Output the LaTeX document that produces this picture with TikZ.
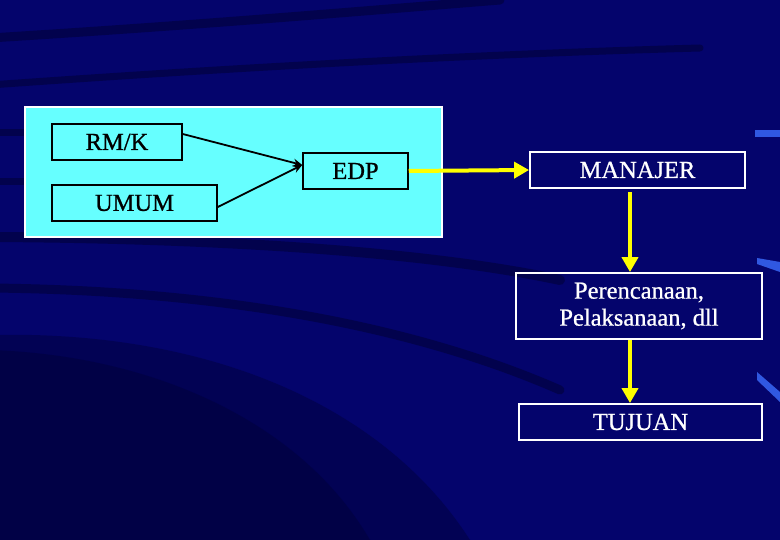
\documentclass[tikz,border=0pt]{standalone}
\usepackage{fontspec}
\setmainfont{Liberation Serif}
\newfontfamily\boxfont[FakeBold=0.8]{Liberation Serif}
\usetikzlibrary{arrows.meta}
\definecolor{bgblue}{RGB}{4,4,108}
\definecolor{darkband}{RGB}{0,0,40}
\definecolor{panelcyan}{RGB}{102,255,255}
\definecolor{arrowyellow}{RGB}{255,255,0}
\definecolor{streak}{RGB}{60,110,255}
\tikzset{
  inbox/.style={draw=black, line width=1.5pt, fill=panelcyan, text=black, font=\boxfont\fontsize{24.5}{27}\selectfont, inner sep=0pt},
  outbox/.style={draw=white, line width=1.8pt, text=white, font=\boxfont\fontsize{24.5}{27}\selectfont, inner sep=0pt, align=center},
  blackarrow/.style={draw=black, line width=1.8pt, -{Stealth[length=9pt,width=8pt]}},
  yellowarrow/.style={draw=arrowyellow, line width=4pt, -{Triangle[length=15pt,width=16pt]}},
  band/.style={draw=darkband, line cap=round, opacity=0.45}
}
\begin{document}
\begin{tikzpicture}[x=1pt,y=-1pt]
\useasboundingbox (0,0) rectangle (780,540);
\fill[bgblue] (0,0) rectangle (780,540);
% decorative dark bands
\begin{scope}
\clip (0,0) rectangle (780,540);
\draw[band, line width=9pt] (-10,38) .. controls (200,25) and (350,12) .. (500,0);
\draw[band, line width=7pt] (-10,85) .. controls (200,70) and (450,55) .. (700,48);
\draw[band, line width=7pt] (-10,133) -- (40,133);
\draw[band, line width=7pt] (-10,182) -- (40,182);
\draw[band, line width=10pt] (-10,237) .. controls (200,238) and (420,250) .. (560,280);
\draw[band, line width=9pt] (-10,288) .. controls (200,290) and (400,320) .. (560,390);
\fill[darkband, opacity=0.35] (-10,335) .. controls (200,330) and (380,400) .. (470,540) -- (-10,540) -- cycle;
\fill[darkband, opacity=0.3] (-10,350) .. controls (150,355) and (300,420) .. (370,540) -- (-10,540) -- cycle;
\fill[streak, opacity=0.8] (755,130) -- (780,130) -- (780,137) -- (755,137) -- cycle;
\fill[streak, opacity=0.8] (757,258) -- (780,262) -- (780,272) -- (757,264) -- cycle;
\fill[streak, opacity=0.8] (757,372) -- (780,392) -- (780,402) -- (757,380) -- cycle;
\end{scope}
% cyan panel
\node[draw=white, line width=1.8pt, fill=panelcyan, minimum width=417pt, minimum height=130pt, inner sep=0pt] (panel) at (233.5,172) {};
% inner boxes
\node[inbox, minimum width=130pt, minimum height=36pt] (rmk) at (117,142) {RM/K};
\node[inbox, minimum width=165pt, minimum height=36pt] (umum) at (134.5,203) {UMUM};
\node[inbox, minimum width=105pt, minimum height=36pt] (edp) at (355.5,171) {EDP};
% outer boxes
\node[outbox, minimum width=215pt, minimum height=36pt] (manajer) at (637.5,170) {MANAJER};
\node[outbox, minimum width=246pt, minimum height=66pt] (plan) at (639,306) {Perencanaan,\\Pelaksanaan, dll};
\node[outbox, minimum width=243pt, minimum height=36pt] (tujuan) at (640.5,422) {TUJUAN};
% connectors
\draw[blackarrow] (rmk.east |- 0,134) -- (edp.west |- 0,165);
\draw[blackarrow] (umum.east |- 0,207) -- (edp.west |- 0,165);
\draw[yellowarrow] (edp.east) -- (manajer.west);
\draw[yellowarrow] (manajer.south -| 630,0) ++(0,3) -- (plan.north -| 630,0);
\draw[yellowarrow] (plan.south -| 630,0) -- (tujuan.north -| 630,0);
\end{tikzpicture}
\end{document}
